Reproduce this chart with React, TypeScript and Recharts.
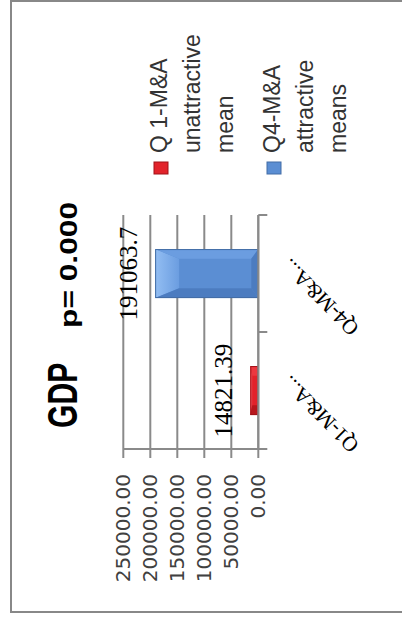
import React from 'react';
import { BarChart, Bar, XAxis, YAxis, CartesianGrid, LabelList, Legend } from 'recharts';

// GDP means per M&A attractiveness quartile
const categories = ['Q1-M&A...', 'Q4-M&A...'];
const gdpMeans = [14821.39, 191063.7];
const legendLines = [
  ['Q 1-M&A', 'unattractive', 'mean'],
  ['Q4-M&A', 'attractive', 'means'],
];
const yTicks = [0, 50000, 100000, 150000, 200000, 250000];
const titleMain = 'GDP';
const titleSub = 'p= 0.000';

const palette = [
  { face: '#e2232b', light: '#f5626b', side: '#ec3840', dark: '#b8171d', edge: '#a11318' },
  { face: '#5b8ed3', light: '#93bef3', side: '#6b9de0', dark: '#4c7cc0', edge: '#436da6' },
];

const GRID = '#8a8a8a';
const W = 617;
const H = 402;

const data = categories.map((name, i) => ({ name, value: gdpMeans[i] }));

function BevelBar(props: any) {
  const { x, y, width, height, index } = props;
  if (!height || height <= 0) return null;
  const c = palette[index % palette.length];
  const t = Math.min(24, height * 0.25);
  const s = Math.min(10, width * 0.2);
  const b = Math.min(7, height * 0.12);
  const gid = `bevel-top-${index}`;
  const r = x + width;
  const btm = y + height;
  return (
    <g>
      <defs>
        <linearGradient id={gid} x1="0" y1="0" x2="0" y2="1">
          <stop offset="0" stopColor={c.light} />
          <stop offset="1" stopColor={c.side} />
        </linearGradient>
      </defs>
      <rect x={x} y={y} width={width} height={height} fill={c.face} />
      <polygon points={`${x},${y} ${r},${y} ${r - s},${y + t} ${x + s},${y + t}`} fill={`url(#${gid})`} />
      <polygon points={`${r},${y} ${r},${btm} ${r - s},${btm - b} ${r - s},${y + t}`} fill={c.side} />
      <polygon points={`${x},${y} ${x + s},${y + t} ${x + s},${btm - b} ${x},${btm}`} fill={c.dark} />
      <polygon points={`${x},${btm} ${x + s},${btm - b} ${r - s},${btm - b} ${r},${btm}`} fill={c.dark} />
      <rect x={x + 0.5} y={y + 0.5} width={Math.max(0, width - 1)} height={Math.max(0, height - 1)} fill="none" stroke={c.edge} strokeWidth={1} />
    </g>
  );
}

function CategoryTick(props: any) {
  const { x, y, payload, width, visibleTicksCount, index } = props;
  const half = payload && payload.offset ? payload.offset : width / visibleTicksCount / 2;
  const marks = [x - half];
  if (index === visibleTicksCount - 1) marks.push(x + half);
  return (
    <g>
      {marks.map((mx, i) => (
        <line key={i} x1={mx} y1={y} x2={mx} y2={y + 9} stroke={GRID} strokeWidth={2} />
      ))}
      <text
        transform={`translate(${x + 16},${y + 32}) rotate(-45)`}
        textAnchor="end"
        fontFamily="'Liberation Serif', serif"
        fontSize={21}
        fill="#000"
      >
        {payload.value}
      </text>
    </g>
  );
}

function ValueLabel(props: any) {
  const { x, y, width, value } = props;
  return (
    <text
      x={x + width / 2}
      y={y - 18}
      textAnchor="middle"
      fontFamily="'Liberation Serif', serif"
      fontSize={25}
      fill="#000"
    >
      {String(value)}
    </text>
  );
}

function LegendBlock() {
  const lineGap = 33;
  const entryGap = 113;
  return (
    <svg width={170} height={240} style={{ overflow: 'visible' }}>
      {legendLines.map((lines, i) => {
        const top = i * entryGap;
        const c = palette[i];
        return (
          <g key={i}>
            <rect x={3} y={top + 14} width={12} height={14} fill={c.face} stroke={c.edge} strokeWidth={1} />
            <text fontFamily="'Liberation Sans', sans-serif" fontSize={23} fill="#333">
              {lines.map((ln, j) => (
                <tspan key={j} x={24} y={top + 27 + j * lineGap}>
                  {ln}
                </tspan>
              ))}
            </text>
          </g>
        );
      })}
    </svg>
  );
}

export default function App() {
  return (
    <div style={{ position: 'fixed', left: 0, top: 0, width: 402, height: 617, overflow: 'hidden', background: '#fff' }}>
      <div
        style={{
          position: 'absolute',
          left: 0,
          top: 0,
          width: W,
          height: H,
          transformOrigin: '0 0',
          transform: `translate(0px, ${W}px) rotate(-90deg)`,
        }}
      >
        <svg width={W} height={H} style={{ position: 'absolute', left: 0, top: 0 }}>
          <rect x={5} y={11} width={611} height={420} fill="#fff" stroke="#888" strokeWidth={2} />
          <g fontFamily="'Liberation Sans', sans-serif" fontWeight="bold" fill="#000">
            <text transform="translate(189,77) scale(0.7,1)" fontSize={43}>{titleMain}</text>
            <text transform="translate(289,77) scale(1.38,1)" fontSize={23}>{titleSub}</text>
          </g>
        </svg>
        <div style={{ position: 'absolute', left: 0, top: 0 }}>
          <BarChart
            width={W}
            height={H}
            data={data}
            margin={{ top: 123.3, right: 215, left: 0, bottom: 43.7 }}
            barCategoryGap="29%"
          >
            <CartesianGrid vertical={false} stroke={GRID} strokeWidth={2} />
            <XAxis
              dataKey="name"
              interval={0}
              height={100}
              tickSize={0}
              tickMargin={0}
              tickLine={false}
              axisLine={{ stroke: GRID, strokeWidth: 2 }}
              tick={<CategoryTick />}
            />
            <YAxis
              type="number"
              domain={[0, 250000]}
              ticks={yTicks}
              interval={0}
              width={168}
              tickSize={9}
              tickMargin={16}
              axisLine={{ stroke: GRID, strokeWidth: 2 }}
              tickLine={{ stroke: GRID, strokeWidth: 2 }}
              tick={{ fontFamily: "'DejaVu Sans', sans-serif", fontSize: 20, fill: '#404040' }}
              tickFormatter={(v: number) => v.toFixed(2)}
            />
            <Legend
              layout="vertical"
              align="center"
              verticalAlign="middle"
              wrapperStyle={{ position: 'absolute', left: 440, top: 140, width: 170, height: 240 }}
              content={() => <LegendBlock />}
            />
            <Bar dataKey="value" isAnimationActive={false} shape={(p: any) => <BevelBar {...p} />}>
              <LabelList dataKey="value" content={(p: any) => <ValueLabel {...p} />} />
            </Bar>
          </BarChart>
        </div>
      </div>
    </div>
  );
}
